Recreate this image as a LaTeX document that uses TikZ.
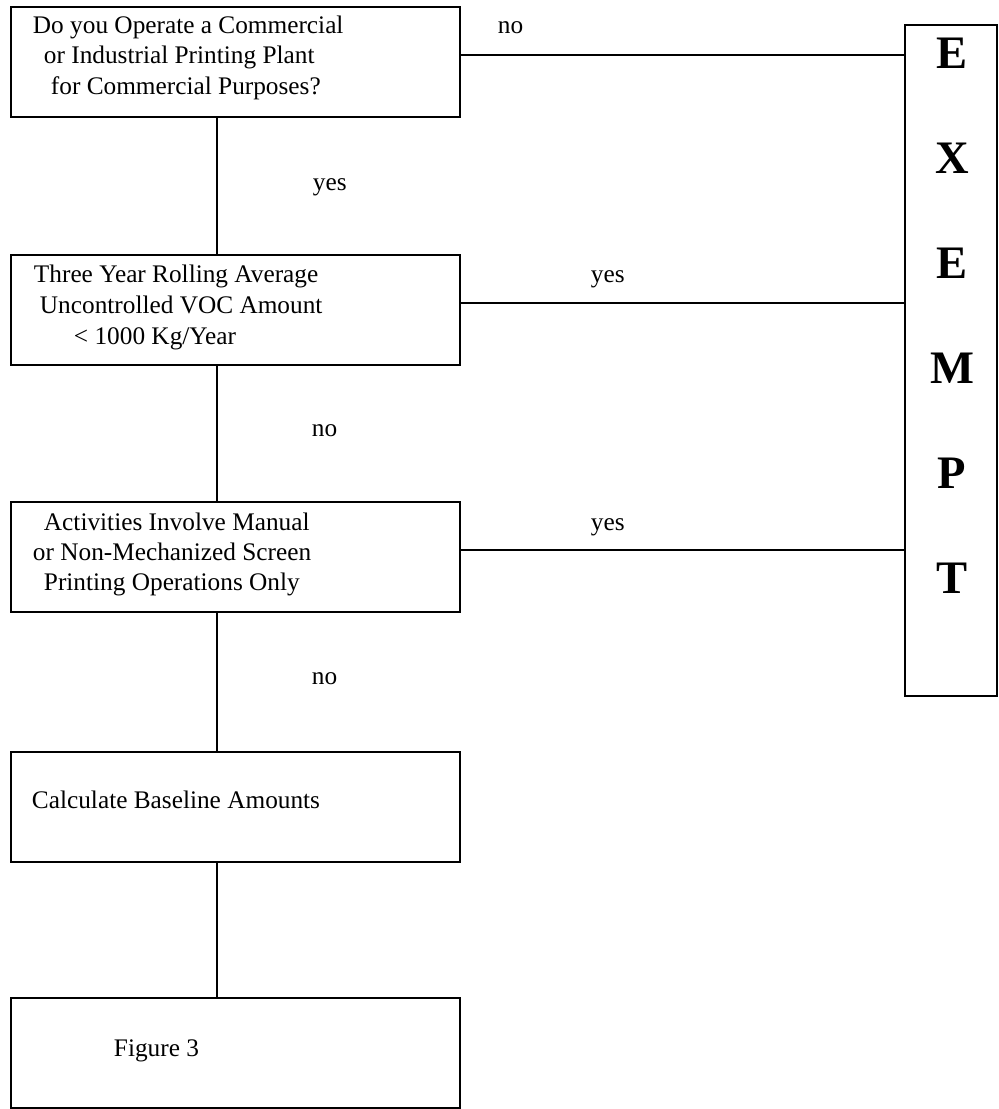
\documentclass[tikz,border=0pt]{standalone}
\usepackage{fontspec}
\setmainfont{Liberation Serif}

\tikzset{
  box/.style={draw, line width=1.1pt, minimum width=8.98cm, minimum height=2.2cm, inner sep=0pt},
  txt/.style={anchor=base west, inner sep=0pt},
  bigletter/.style={inner sep=0pt, font=\fontsize{26.5}{30}\selectfont\bfseries}
}

\begin{document}
\begin{tikzpicture}[x=0.02cm, y=-0.02cm, line width=1.1pt, font=\fontsize{14.4}{17}\selectfont]
    \useasboundingbox (0,0) rectangle (998,1109);

    % 箱
    \node[box] (q1) at (235.5,62) {};
    \node[box] (q2) at (235.5,310) {};
    \node[box] (q3) at (235.5,557) {};
    \node[box] (q4) at (235.5,807) {};
    \node[box] (q5) at (235.5,1053) {};
    \node[draw, line width=1.1pt, inner sep=0pt, minimum width=1.84cm, minimum height=13.42cm] (exempt) at (951,360.5) {};

    % 箱の中の文
    \node[txt] (q1a) at (32,33) {Do you Operate a Commercial};
    \node[txt] (q1b) at (43,63) {or Industrial Printing Plant};
    \node[txt] (q1c) at (50,94) {for Commercial Purposes?};
    \node[txt] (q2a) at (33,282) {Three Year Rolling Average};
    \node[txt] (q2b) at (39,313) {Uncontrolled VOC Amount};
    \node[txt] (q2c) at (73,344) {< 1000 Kg/Year};
    \node[txt] (q3a) at (43,530) {Activities Involve Manual};
    \node[txt] (q3b) at (32,560) {or Non-Mechanized Screen};
    \node[txt] (q3c) at (43,590) {Printing Operations Only};
    \node[txt] (q4a) at (31,808) {Calculate Baseline Amounts};
    \node[txt] (q5a) at (113,1056) {Figure 3};

    % EXEMPT
    \foreach \l [count=\i] in {E,X,E,M,P,T} {
        \node[bigletter] (ex\i) at (952,{53+105*(\i-1)}) {\l};
    }

    % 縦の線
    \coordinate (spine) at (217,0);
    \draw (q1.south -| spine) -- (q2.north -| spine);
    \draw (q2.south -| spine) -- (q3.north -| spine);
    \draw (q3.south -| spine) -- (q4.north -| spine);
    \draw (q4.south -| spine) -- (q5.north -| spine);

    % 横の線
    \foreach \q in {q1,q2,q3} {
        \draw ([yshift=0.14cm]\q.east) -- ([yshift=0.14cm]\q.east -| exempt.west);
    }

    % yes / no
    \node[txt] (n1) at (497,33) {no};
    \node[txt] (y1) at (312,190) {yes};
    \node[txt] (y2) at (590,282) {yes};
    \node[txt] (n2) at (311,436) {no};
    \node[txt] (y3) at (590,530) {yes};
    \node[txt] (n3) at (311,684) {no};
\end{tikzpicture}
\end{document}
